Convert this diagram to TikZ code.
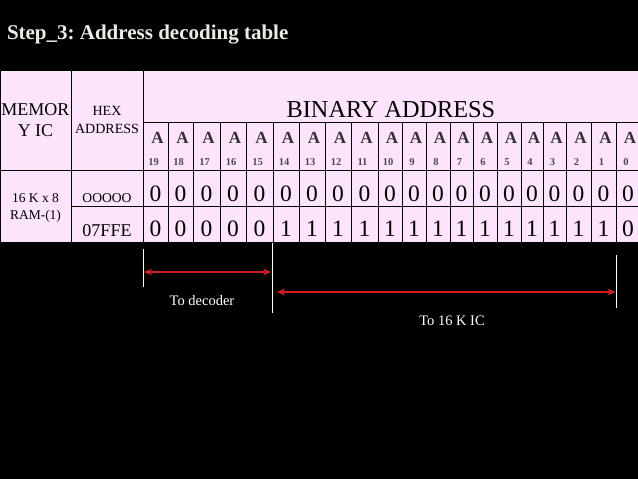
\documentclass[tikz,border=0pt]{standalone}
\usepackage{fontspec}
\setmainfont{Liberation Serif}
\usetikzlibrary{arrows.meta}
\definecolor{cellpink}{HTML}{FCE4FC}
\definecolor{titlegray}{HTML}{ECECE4}
\definecolor{arrowred}{HTML}{D41A1A}
\definecolor{bitgray}{HTML}{333333}
\definecolor{idxgray}{HTML}{4A4A4A}
\frenchspacing
\begin{document}
\begin{tikzpicture}[x=1pt,y=-1pt,
  gridline/.style={draw=black,line width=0.9pt},
  txt/.style={inner sep=0pt,outer sep=0pt},
  bitletter/.style={txt,anchor=base,text=bitgray,font=\bfseries\fontsize{17}{19}\selectfont},
  bitindex/.style={txt,anchor=base,text=idxgray,font=\bfseries\fontsize{10.5}{12}\selectfont},
  digit/.style={txt,anchor=base,font=\fontsize{23.5}{25}\selectfont},
  marker/.style={draw=white,line width=0.8pt},
  redarrow/.style={draw=arrowred,line width=1.8pt,{Stealth[length=8pt,width=7pt]}-{Stealth[length=8pt,width=7pt]}},
  note/.style={txt,anchor=base,text=white,font=\fontsize{14.5}{16}\selectfont}]
\useasboundingbox (0,0) rectangle (638,479);
\fill[black] (0,0) rectangle (638,479);
% title
\node[txt,anchor=base west,text=titlegray,font=\bfseries\fontsize{21}{23}\selectfont] (title) at (7,39.5) {Step\_3: Address decoding table};
% table background
\fill[cellpink] (0,70) rectangle (642,242);
% grid
\draw[gridline] (0.5,70) -- (642,70);
\draw[gridline] (143,122) -- (642,122);
\draw[gridline] (0,170) -- (642,170);
\draw[gridline] (71,206) -- (642,206);
\draw[gridline] (0,242) -- (642,242);
\draw[gridline] (0.5,70) -- (0.5,242);
\draw[gridline] (71,70) -- (71,242);
\draw[gridline] (143,70) -- (143,242);
% header cells
\node[txt,align=center,font=\fontsize{18}{20.6}\selectfont] (memhead) at (35.5,120.3) {MEMOR\\Y IC};
\node[txt,align=center,font=\fontsize{14}{17.3}\selectfont] (hexhead) at (107,120) {HEX\\ADDRESS};
\node[txt,anchor=base,font=\fontsize{24.3}{26}\selectfont] (binhead) at (391,117) {BINARY ADDRESS};
\node[txt,align=center,font=\fontsize{13.5}{17.5}\selectfont] (memic) at (35.5,208) {16 K x 8\\RAM-(1)};
\node[txt,anchor=base,font=\fontsize{13.6}{15}\selectfont] (hexa) at (107,202.7) {OOOOO};
\node[txt,anchor=base,font=\fontsize{18}{20}\selectfont] (hexb) at (107,236.7) {07FFE};
% bit columns
\foreach \l/\r/\n/\v in {143/168/19/0,168/193/18/0,193/220/17/0,220/246/16/0,246/273/15/0,
  273/299/14/1,299/325/13/1,325/351/12/1,351/378/11/1,378/402/10/1,402/426/9/1,426/450/8/1,
  450/473/7/1,473/497/6/1,497/521/5/1,521/543/4/1,543/566/3/1,566/591/2/1,591/616/1/1,616/640/0/0}{
  \draw[gridline] (\r,122) -- (\r,242);
  \node[bitletter] (a\n) at ({(\l+\r)/2+2},143.3) {A};
  \node[bitindex] (i\n) at ({(\l+\r)/2-2},165) {\n};
  \node[digit] (p\n) at ({(\l+\r)/2},201.7) {0};
  \node[digit] (q\n) at ({(\l+\r)/2},236.7) {\v};
}
% markers and arrows
\coordinate (m1t) at (143,249);
\coordinate (m1b) at (143,287);
\coordinate (m2t) at (272,243);
\coordinate (m2b) at (272,313);
\coordinate (m3t) at (616.5,255);
\coordinate (m3b) at (616.5,308);
\draw[marker] (m1t) -- (m1b);
\draw[marker] (m2t) -- (m2b);
\draw[marker] (m3t) -- (m3b);
\coordinate (d1) at (144,272);
\coordinate (d2) at (271,272);
\coordinate (k1) at (277,292);
\coordinate (k2) at (615.5,292);
\draw[redarrow] (d1) -- (d2);
\draw[redarrow] (k1) -- (k2);
\node[note] (todec) at (202,305.5) {To decoder};
\node[note] (toic) at (452,325.5) {To 16 K IC};
\end{tikzpicture}
\end{document}
